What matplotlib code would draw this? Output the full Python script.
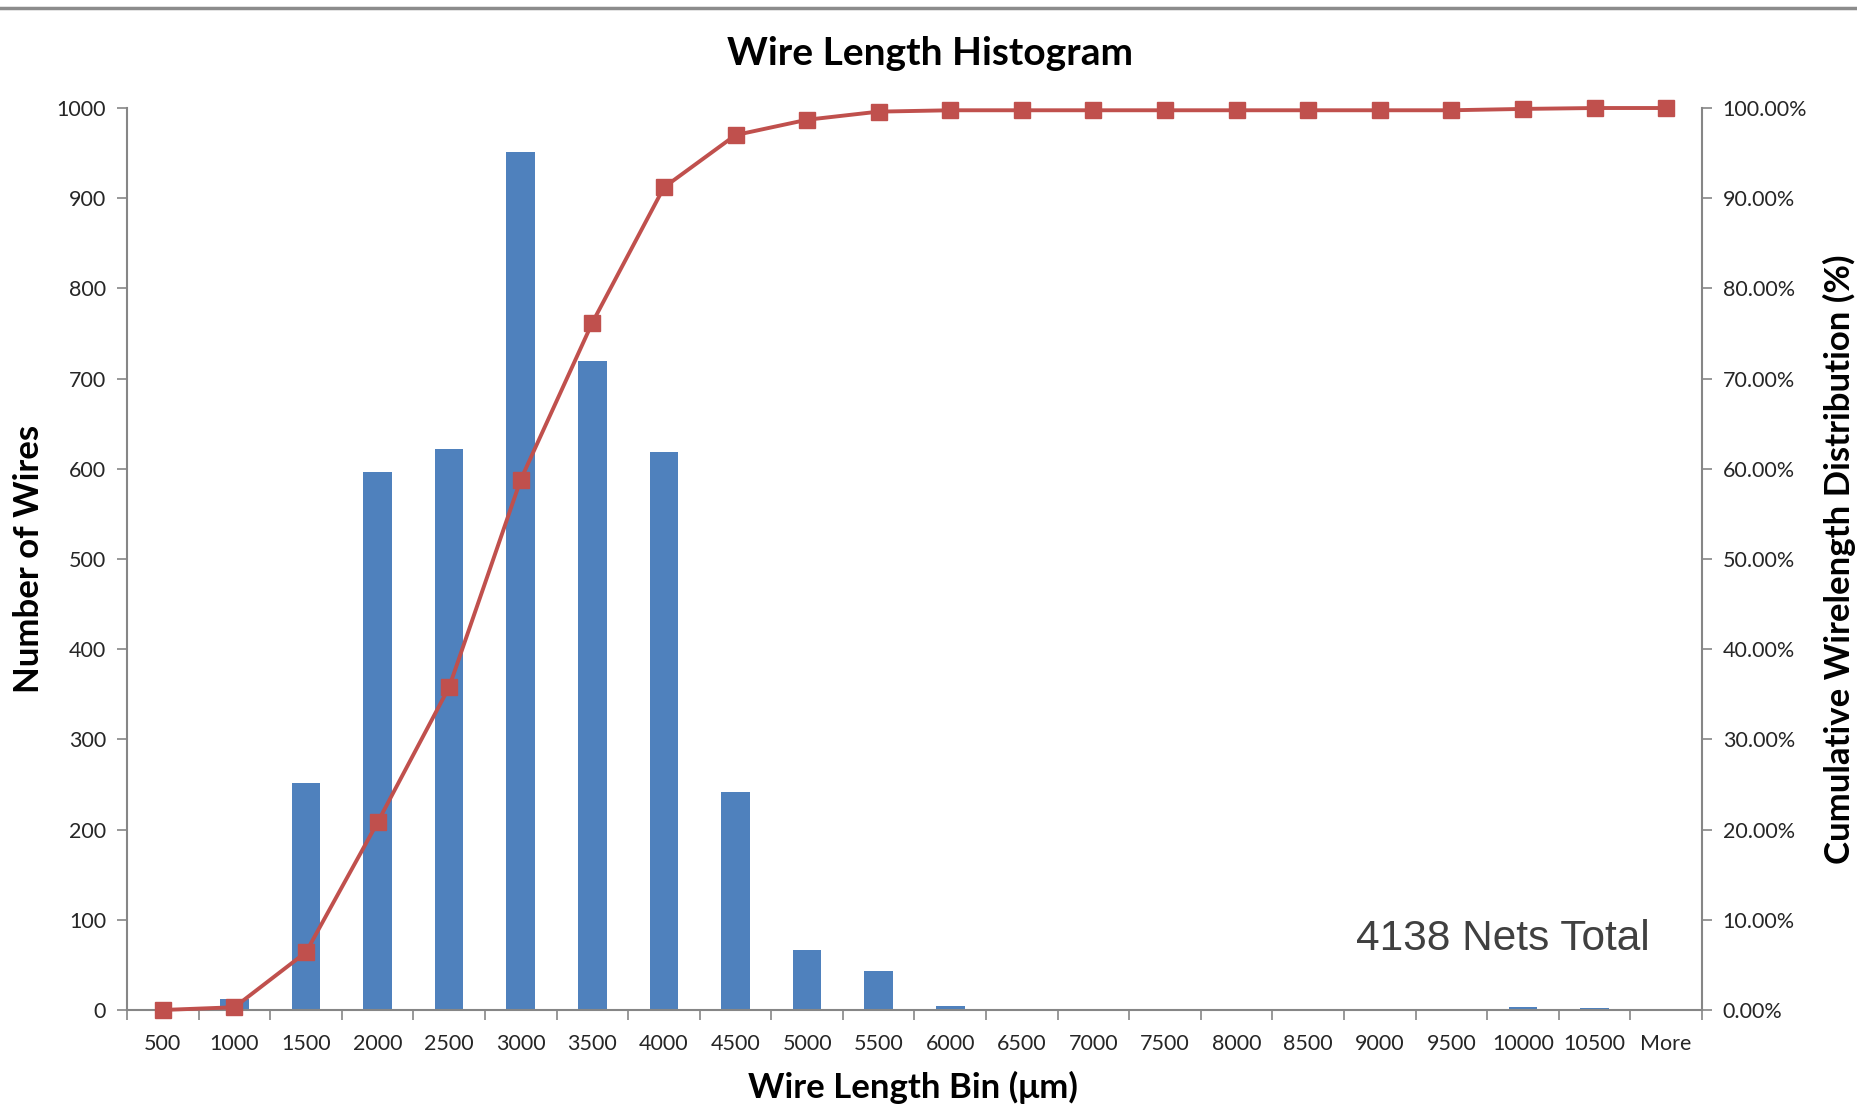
import matplotlib.pyplot as plt
import numpy as np

# histogram data
bins = ["500", "1000", "1500", "2000", "2500", "3000", "3500", "4000", "4500",
        "5000", "5500", "6000", "6500", "7000", "7500", "8000", "8500", "9000",
        "9500", "10000", "10500", "More"]
counts = [0, 12, 252, 597, 622, 951, 720, 619, 242, 66, 43, 4,
          0, 0, 0, 0, 0, 0, 0, 3, 2, 0]
cumulative = [0.0, 0.3, 6.4, 20.8, 35.8, 58.8, 76.2, 91.2, 97.0, 98.7, 99.6, 99.75,
              99.75, 99.75, 99.75, 99.75, 99.75, 99.75, 99.75, 99.9, 100.0, 100.0]

bar_color = "#4F81BD"
line_color = "#C0504D"
axis_gray = "#868686"
font = "Lato"

fig = plt.figure(figsize=(18.57, 11.09), dpi=100)
ax = fig.add_axes([0.0684, 0.0893, 0.8481, 0.8133])

x = np.arange(len(bins))
ax.bar(x, counts, width=0.4, color=bar_color, zorder=2)
ax.set_xlim(-0.5, len(bins) - 0.5)
ax.set_ylim(0, 1000)
ax.set_yticks(np.arange(0, 1001, 100))
ax.set_xticks(x)
ax.set_xticklabels(bins)
ax.set_xticks(np.arange(-0.5, len(bins), 1), minor=True)
ax.tick_params(axis="x", which="major", length=0, pad=17, labelsize=15.5, labelcolor="#262626")
ax.tick_params(axis="x", which="minor", length=7, color=axis_gray, width=1.2)
ax.tick_params(axis="y", length=7, color=axis_gray, width=1.2, pad=8, labelsize=15.5, labelcolor="#262626")
for lab in ax.get_xticklabels() + ax.get_yticklabels():
    lab.set_family(font)

for s in ["top", "right"]:
    ax.spines[s].set_visible(False)
for s in ["left", "bottom"]:
    ax.spines[s].set_color(axis_gray)
    ax.spines[s].set_linewidth(1.5)

ax2 = ax.twinx()
ax2.plot(x, cumulative, color=line_color, lw=2.8, marker="s", markersize=12,
         markerfacecolor=line_color, markeredgecolor=line_color, zorder=3, clip_on=False)
ax2.set_ylim(0, 100)
ax2.set_yticks(np.arange(0, 101, 10))
ax2.set_yticklabels([f"{v:.2f}%" for v in np.arange(0, 101, 10)])
ax2.tick_params(axis="y", length=7, color=axis_gray, width=1.2, pad=8, labelsize=15.5, labelcolor="#262626")
for lab in ax2.get_yticklabels():
    lab.set_family(font)
for s in ["top", "left", "bottom"]:
    ax2.spines[s].set_visible(False)
ax2.spines["right"].set_color(axis_gray)
ax2.spines["right"].set_linewidth(1.5)

fig.text(0.5008, 0.952, "Wire Length Histogram", ha="center", va="center",
         fontsize=28, fontweight="bold", family=font)
fig.text(0.4917, 0.0198, "Wire Length Bin (\u03bcm)", ha="center", va="center",
         fontsize=25, fontweight="bold", family=font)
fig.text(0.0155, 0.496, "Number of Wires", ha="center", va="center", rotation=90,
         fontsize=25, fontweight="bold", family=font)
fig.text(0.9905, 0.496, "Cumulative Wirelength Distribution (%)", ha="center", va="center",
         rotation=90, fontsize=25, fontweight="bold", family=font)
fig.text(0.8885, 0.143, "4138 Nets Total", ha="right", va="baseline",
         fontsize=30.5, color="#404040", family="Liberation Sans")

# thin gray rule across the top of the slide
fig.add_artist(plt.Line2D([0, 1], [0.9925, 0.9925], color="#8c8c8c", lw=2.5))

fig.savefig("out.png", dpi=100)
